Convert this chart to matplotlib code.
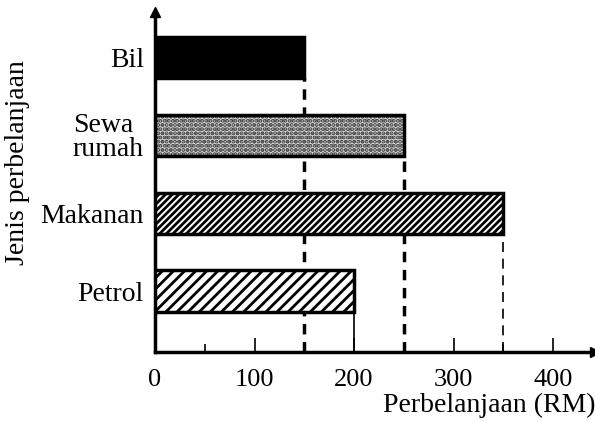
import matplotlib.pyplot as plt

plt.rcParams['font.family'] = ['Liberation Serif', 'DejaVu Serif']
plt.rcParams['hatch.linewidth'] = 2.0

# data
categories = ['Petrol', 'Makanan', 'Sewa\nrumah', 'Bil']
values = [200, 350, 250, 150]
x_ticks = [0, 100, 200, 300, 400]
x_minor = [50, 150, 250, 350]

fig = plt.figure(figsize=(5.95, 4.21), dpi=100)
ax = fig.add_axes([155 / 595, 69 / 421, 440 / 595, 340 / 421])

pos = list(range(len(categories)))
h = 0.53

# Bil solid black, Makanan dense hatch, Petrol wider hatch
ax.barh(pos[3], values[3], height=h, color='black', edgecolor='black', linewidth=2.5, zorder=3)
ax.barh(pos[1], values[1], height=h, color='white', edgecolor='black', hatch='/////', linewidth=2.5, zorder=3)
ax.barh(pos[0], values[0], height=h, color='white', edgecolor='black', hatch='///', linewidth=2.5, zorder=3)
# Sewa rumah: speckled grey
ax.barh(pos[2], values[2], height=h, color='#8a8a8a', edgecolor='#d8d8d8', hatch='xxxx', linewidth=0, zorder=3)
ax.barh(pos[2], values[2], height=h, color='none', edgecolor='#3a3a3a', hatch='....', linewidth=0, zorder=3)
ax.barh(pos[2], values[2], height=h, color='none', edgecolor='black', linewidth=2.5, zorder=4)

# dashed guide lines from bar ends down to the x axis
y0 = -0.784
ax.plot([values[3], values[3]], [y0, pos[3] - h / 2], color='black', lw=2.5, ls=(0, (3, 2.2)), zorder=2)
ax.plot([values[2], values[2]], [y0, pos[2] - h / 2], color='black', lw=2.5, ls=(0, (3, 2.2)), zorder=2)
ax.plot([values[1], values[1]], [y0, pos[1] - h / 2], color='black', lw=1.2, ls=(0, (6, 4)), zorder=2)
ax.plot([values[0], values[0]], [y0, pos[0] - h / 2], color='black', lw=1.2, zorder=2)

ax.set_xlim(0, 442)
ax.set_ylim(y0, 3.586)

ax.set_yticks(pos)
ax.set_yticklabels(categories, fontsize=20)
for lab in ax.get_yticklabels():
    lab.set_multialignment('left')
    lab.set_linespacing(0.95)
ax.tick_params(axis='y', length=0, pad=8)

ax.set_xticks(x_ticks)
ax.set_xticklabels([str(t) for t in x_ticks], fontsize=19)
ax.set_xticks(x_minor, minor=True)
ax.tick_params(axis='x', which='major', direction='in', length=10, width=1.2, pad=12)
ax.tick_params(axis='x', which='minor', direction='in', length=6, width=1.2)

for s in ['top', 'right']:
    ax.spines[s].set_visible(False)
for s in ['left', 'bottom']:
    ax.spines[s].set_linewidth(2.5)

# arrow heads on the axes
ax.plot([0], [1], marker='^', color='black', ms=7, transform=ax.transAxes, clip_on=False)
ax.plot([1], [0], marker='>', color='black', ms=7, transform=ax.transAxes, clip_on=False)

fig.text(383 / 595, 1 - 405 / 421, 'Perbelanjaan (RM)', fontsize=20, ha='left', va='center')
fig.text(18 / 595, 1 - 163 / 421, 'Jenis perbelanjaan', fontsize=20, rotation=90,
         ha='center', va='center')

fig.savefig('out.png', dpi=100)
